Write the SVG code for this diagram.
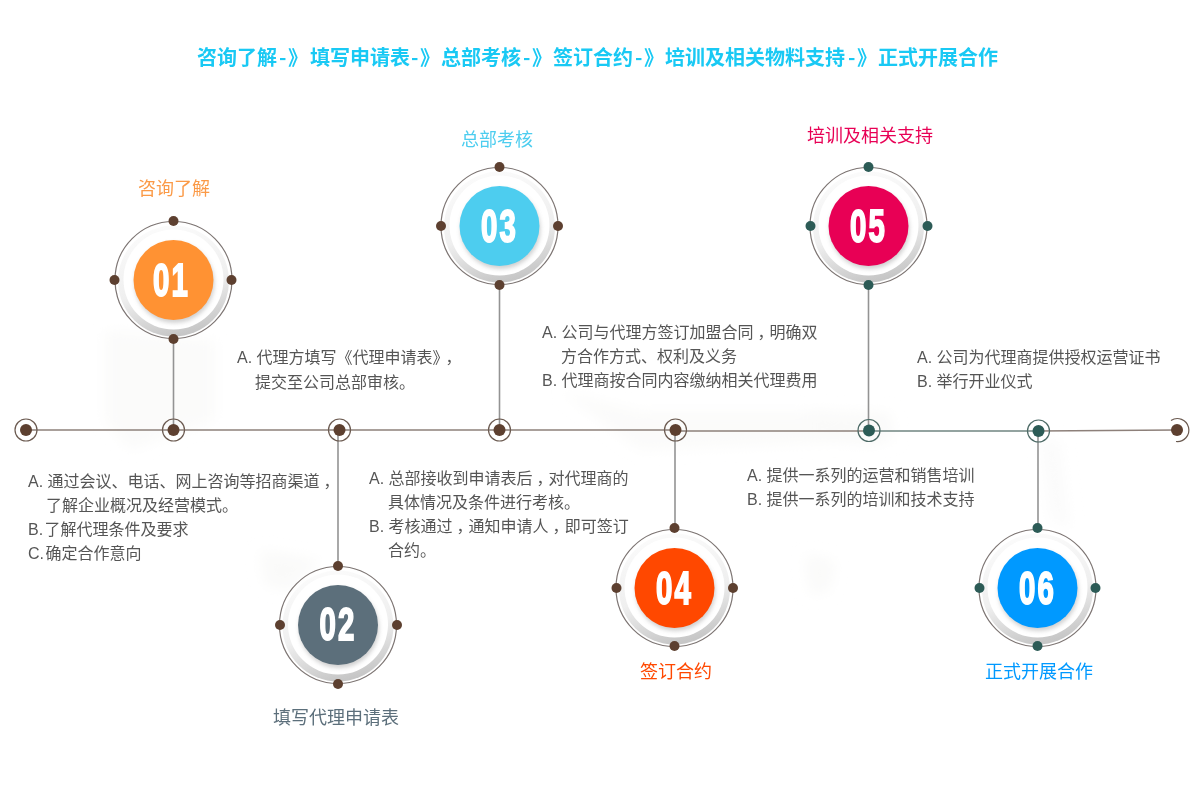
<svg xmlns="http://www.w3.org/2000/svg" width="1200" height="788" viewBox="0 0 1200 788">
<defs>
<linearGradient id="bezel" x1="0.35" y1="0" x2="0.6" y2="1"><stop offset="0" stop-color="#fbfbfb"/><stop offset="0.55" stop-color="#efefef"/><stop offset="1" stop-color="#c4c4c4"/></linearGradient>
<filter id="soft" x="-30%" y="-30%" width="160%" height="160%"><feGaussianBlur stdDeviation="2"/></filter>
<filter id="blurbg" x="-20%" y="-20%" width="140%" height="140%"><feGaussianBlur stdDeviation="7"/></filter>
<g id="ring">
<circle cy="1" r="55.500" fill="url(#bezel)"/>
<circle r="58.500" fill="none" stroke="#7d7573" stroke-width="1.2"/>
<circle cy="-0.5" r="50" fill="#fff"/>
<circle cx="1" cy="3" r="40" fill="#8a8a8a" opacity="0.4" filter="url(#soft)"/>
</g>
</defs>
<style>
text{font-family:"Liberation Sans","Noto Sans CJK SC",sans-serif}
.body{font-size:16px;fill:#555}
.cap{font-size:18px}
.num{font-size:42px;font-weight:bold;fill:#fff;stroke:#fff;stroke-width:1.8px;text-anchor:middle;letter-spacing:3px}
.cn{font-family:"Noto Sans CJK SC",sans-serif}
.axis{stroke:#8d807a;stroke-width:1.4;fill:none}
.stem{stroke:#939393;stroke-width:1.6;fill:none}
.halo{fill:none;stroke-width:1.2}
.comma{letter-spacing:-4px}
.tight{word-spacing:-3px}
</style>
<rect width="1200" height="788" fill="#fff"/>
<g id="backdrop" fill="#fafaf9" filter="url(#blurbg)">
<path d="M105 330 L215 340 L215 420 L130 450 L105 420Z" opacity="0.8"/>
<path d="M260 550 L320 560 L290 590 L265 585Z"/>
<path d="M560 390 L640 412 L890 412 L895 440 L640 450Z" opacity="0.8"/>
<path d="M810 410 L890 415 L880 445 L810 440Z"/>
<path d="M805 555 L835 560 L830 590 L810 595Z"/>
<path d="M1040 440 L1060 440 L1070 530 L1050 520Z" opacity="0.7"/>
</g>
<text id="title" y="65" font-size="20" font-weight="bold" fill="#19c9f4" class="cn"><tspan x="197">咨询了解</tspan><tspan x="279">-</tspan><tspan x="288">》</tspan><tspan x="310">填写申请表</tspan><tspan x="411">-</tspan><tspan x="420">》</tspan><tspan x="441">总部考核</tspan><tspan x="523">-</tspan><tspan x="532">》</tspan><tspan x="553">签订合约</tspan><tspan x="635">-</tspan><tspan x="644">》</tspan><tspan x="665">培训及相关物料支持</tspan><tspan x="848">-</tspan><tspan x="857">》</tspan><tspan x="878">正式开展合作</tspan></text>
<g id="connectors">
<path class="axis" d="M26 430 H675"/>
<path class="axis" d="M675 431 H868"/>
<path d="M868 431 H1038" stroke="#6f8580" stroke-width="1.4" fill="none"/>
<path class="axis" d="M1038 431 L1177 430"/>
<path class="stem" d="M173.500 340 V430"/>
<path class="stem" d="M338 430 V566"/>
<path class="stem" d="M499.500 285 V430"/>
<path class="stem" d="M675 431 V528"/>
<path class="stem" d="M868.500 285 V431"/>
<path class="stem" d="M1038 431 V528"/>
</g>
<g id="timeline-points">
<g id="p0"><circle class="halo" cx="26" cy="430" r="11" stroke="#6b5a50"/><circle cx="26" cy="430" r="6" fill="#5d4030"/></g>
<g id="p1"><circle class="halo" cx="173.500" cy="430" r="11" stroke="#6b5a50"/><circle cx="173.500" cy="430" r="6" fill="#5d4030"/></g>
<g id="p2"><circle class="halo" cx="339.500" cy="430" r="11" stroke="#6b5a50"/><circle cx="339.500" cy="430" r="6" fill="#5d4030"/></g>
<g id="p3"><circle class="halo" cx="499.500" cy="430" r="11" stroke="#6b5a50"/><circle cx="499.500" cy="430" r="6" fill="#5d4030"/></g>
<g id="p4"><circle class="halo" cx="675.500" cy="430" r="11" stroke="#6b5a50"/><circle cx="675.500" cy="430" r="6" fill="#5d4030"/></g>
<g id="p5"><circle class="halo" cx="869" cy="430.500" r="11" stroke="#4d6a66"/><circle cx="869" cy="430.500" r="6" fill="#2c5b56"/></g>
<g id="p6"><circle class="halo" cx="1038.500" cy="431" r="11" stroke="#4d6a66"/><circle cx="1038.500" cy="431" r="6" fill="#2c5b56"/></g>
<g id="p7"><path class="halo" d="M1171 420.500 A11.500 11.500 0 1 1 1176 441.500" stroke="#6b5a50"/><circle cx="1177" cy="430" r="6" fill="#5d4030"/></g>
</g>
<g id="node-01" transform="translate(173.500 280)">
<use href="#ring"/><circle r="40" fill="#ff9233"/>
<g fill="#5d4030"><circle cy="-59" r="5"/><circle cy="59" r="5"/><circle cx="-59" r="5"/><circle cx="58" r="5"/></g>
<text class="num" transform="translate(-2 16) scale(0.7 1.08)">01</text>
<text x="0.500" y="-85" text-anchor="middle" class="cap" fill="#fb9a47">咨询了解</text>
</g>
<g id="node-02" transform="translate(338 625)">
<use href="#ring"/><circle r="40" fill="#5c6f7b"/>
<g fill="#5d4030"><circle cy="-59" r="5"/><circle cy="59" r="5"/><circle cx="-58" r="5"/><circle cx="59" r="5"/></g>
<text class="num" transform="translate(0 15) scale(0.7 1.08)">02</text>
<text x="-2" y="99" text-anchor="middle" class="cap" fill="#5c6f7b">填写代理申请表</text>
</g>
<g id="node-03" transform="translate(499.500 226)">
<use href="#ring"/><circle r="40" fill="#4dcdef"/>
<g fill="#5d4030"><circle cy="-59" r="5"/><circle cy="59" r="5"/><circle cx="-58.500" r="5"/><circle cx="58.500" r="5"/></g>
<text class="num" transform="translate(0 16) scale(0.7 1.08)">03</text>
<text x="-2.500" y="-80" text-anchor="middle" class="cap" fill="#4dcdef">总部考核</text>
</g>
<g id="node-04" transform="translate(674.500 588)">
<use href="#ring"/><circle r="40" fill="#ff4800"/>
<g fill="#5d4030"><circle cy="-60" r="5"/><circle cy="58" r="5"/><circle cx="-58" r="5"/><circle cx="58.500" r="5"/></g>
<text class="num" transform="translate(0 16) scale(0.7 1.08)">04</text>
<text x="1.500" y="90" text-anchor="middle" class="cap" fill="#ff4800">签订合约</text>
</g>
<g id="node-05" transform="translate(868.500 226)">
<use href="#ring"/><circle r="40" fill="#e80055"/>
<g fill="#2c5b56"><circle cy="-59" r="5"/><circle cy="59" r="5"/><circle cx="-58" r="5"/><circle cx="59" r="5"/></g>
<text class="num" transform="translate(0 16) scale(0.7 1.08)">05</text>
<text x="1.500" y="-84" text-anchor="middle" class="cap" fill="#e80055">培训及相关支持</text>
</g>
<g id="node-06" transform="translate(1037.500 588)">
<use href="#ring"/><circle r="40" fill="#0099ff"/>
<g fill="#2c5b56"><circle cy="-60" r="5"/><circle cy="58" r="5"/><circle cx="-58" r="5"/><circle cx="58" r="5"/></g>
<text class="num" transform="translate(0 16) scale(0.7 1.08)">06</text>
<text x="1.500" y="90" text-anchor="middle" class="cap" fill="#0099ff">正式开展合作</text>
</g>
<g id="desc-01" class="body">
<text x="28" y="487">A. 通过会议、电话、网上咨询等招商渠道<tspan dx="4">，</tspan></text>
<text x="46" y="511">了解企业概况及经营模式。</text>
<text x="28" y="535" class="tight">B. 了解代理条件及要求</text>
<text x="28" y="559" class="tight">C. 确定合作意向</text>
</g>
<g id="desc-02" class="body">
<text x="237" y="363">A. 代理方填写《代理申请表》<tspan dx="5">，</tspan></text>
<text x="255" y="388">提交至公司总部审核。</text>
</g>
<g id="desc-03" class="body">
<text x="369" y="484">A. 总部接收到申请表后<tspan dx="4" class="comma">，</tspan>对代理商的</text>
<text x="388" y="508">具体情况及条件进行考核。</text>
<text x="369" y="532">B. 考核通过<tspan dx="4" class="comma">，</tspan>通知申请人<tspan dx="4" class="comma">，</tspan>即可签订</text>
<text x="388" y="556">合约。</text>
</g>
<g id="desc-04" class="body">
<text x="542" y="338">A. 公司与代理方签订加盟合同<tspan dx="4" class="comma">，</tspan>明确双</text>
<text x="561" y="362">方合作方式、权利及义务</text>
<text x="542" y="386">B. 代理商按合同内容缴纳相关代理费用</text>
</g>
<g id="desc-05" class="body">
<text x="747" y="481">A. 提供一系列的运营和销售培训</text>
<text x="747" y="505">B. 提供一系列的培训和技术支持</text>
</g>
<g id="desc-06" class="body">
<text x="917" y="363">A. 公司为代理商提供授权运营证书</text>
<text x="917" y="387">B. 举行开业仪式</text>
</g>
</svg>
